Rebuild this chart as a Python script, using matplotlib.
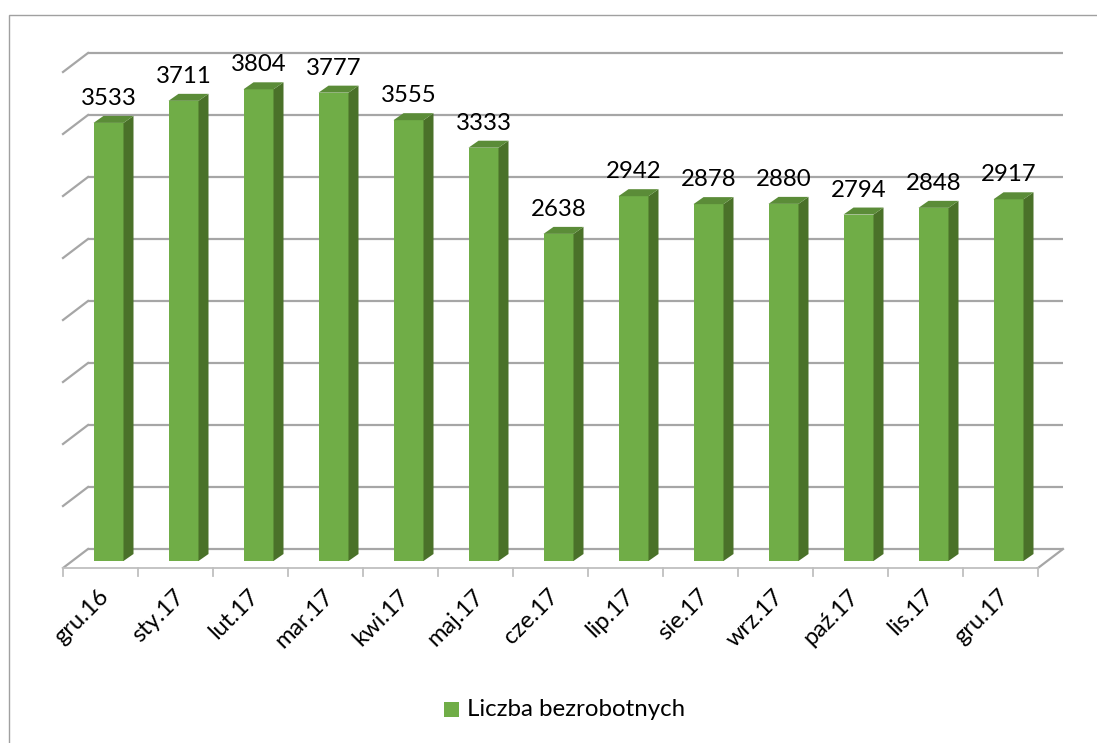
import matplotlib
matplotlib.use("Agg")
import matplotlib.pyplot as plt
from matplotlib.patches import Polygon, Rectangle
from matplotlib.transforms import offset_copy
import numpy as np

categories = ["gru.16", "sty.17", "lut.17", "mar.17", "kwi.17", "maj.17", "cze.17",
              "lip.17", "sie.17", "wrz.17", "paź.17", "lis.17", "gru.17"]
values = [3533, 3711, 3804, 3777, 3555, 3333, 2638, 2942, 2878, 2880, 2794, 2848, 2917]
series_name = "Liczba bezrobotnych"
grid_levels = [0, 500, 1000, 1500, 2000, 2500, 3000, 3500, 4000]

plt.rcParams['font.family'] = ['Lato', 'DejaVu Sans']

W, H = 1097, 743
fig = plt.figure(figsize=(W / 100, H / 100), dpi=100)

# outer chart border
fig.add_artist(Rectangle((9 / W, -0.1), 1.2, (H - 15) / H + 0.1, transform=fig.transFigure,
                         fill=False, edgecolor="#a0a0a0", linewidth=1.0))

# axes in the front plane
left_px, right_px, floor_px, top_px = 63, 1038, 568, 72
ax = fig.add_axes([left_px / W, (H - floor_px) / H, (right_px - left_px) / W, (floor_px - top_px) / H])
n = len(categories)
ax.set_xlim(-0.5, n - 0.5)
ax.set_ylim(0, 4000)
ax.axis("off")

px_x = (right_px - left_px) / n          # pixels per category
px_y = (floor_px - top_px) / 4000.0       # pixels per unit

back = offset_copy(ax.transData, fig=fig, x=25, y=19, units='dots')
barT = offset_copy(ax.transData, fig=fig, x=8, y=7, units='dots')

grid_col = "#a6a6a6"
# back wall gridlines + left wall diagonals
for lv in grid_levels:
    ax.plot([-0.5, n - 0.5], [lv, lv], color=grid_col, lw=1.6, transform=back, clip_on=False,
            solid_capstyle='butt', zorder=1)
    ax.plot([-0.5, -0.5 + 25 / px_x], [lv, lv + 19 / px_y], color=grid_col, lw=1.6,
            clip_on=False, zorder=1)
# floor
ax.plot([-0.5, n - 0.5], [0, 0], color="#bfbfbf", lw=1.3, clip_on=False, zorder=1)
ax.plot([n - 0.5, n - 0.5 + 25 / px_x], [0, 19 / px_y], color=grid_col, lw=1.6, clip_on=False, zorder=1)
# ticks
for b in np.arange(-0.5, n, 1.0):
    ax.plot([b, b], [0, -8 / px_y], color="#bfbfbf", lw=1.3, clip_on=False, zorder=1)

# bars
x = np.arange(n)
w = 0.4
ddx = 10 / px_x
ddy = 7 / px_y
front_col = "#70ad47"
side_col = "#4a7129"
top_col = "#5b8c38"
ax.bar(x, values, width=w, color=front_col, transform=barT, zorder=3, clip_on=False)
for xi, v in zip(x, values):
    side = Polygon([(xi + w / 2, 0), (xi + w / 2 + ddx, ddy), (xi + w / 2 + ddx, v + ddy), (xi + w / 2, v)],
                   closed=True, facecolor=side_col, edgecolor='none', transform=barT, zorder=3, clip_on=False)
    top = Polygon([(xi - w / 2, v), (xi + w / 2, v), (xi + w / 2 + ddx, v + ddy), (xi - w / 2 + ddx, v + ddy)],
                  closed=True, facecolor=top_col, edgecolor='none', transform=barT, zorder=3, clip_on=False)
    ax.add_patch(side)
    ax.add_patch(top)
    ax.text(xi, v + 18 / px_y, f"{v}", transform=barT, ha='center', va='baseline',
            fontsize=17.3, color="black", zorder=4, clip_on=False)

# category labels
lab_tr = offset_copy(ax.transData, fig=fig, x=5, y=-25, units='dots')
for xi, c in zip(x, categories):
    ax.text(xi, 0, c, transform=lab_tr, rotation=45, rotation_mode='anchor',
            ha='right', va='center', fontsize=17, color="black", clip_on=False)

# legend
fig.add_artist(Rectangle((444 / W, (H - 717) / H), 15 / W, 15 / H, transform=fig.transFigure,
                         facecolor=front_col, edgecolor='none'))
fig.text(467 / W, (H - 709) / H, series_name, ha='left', va='center', fontsize=17.3, color="black")

fig.savefig("out.png", dpi=100)
